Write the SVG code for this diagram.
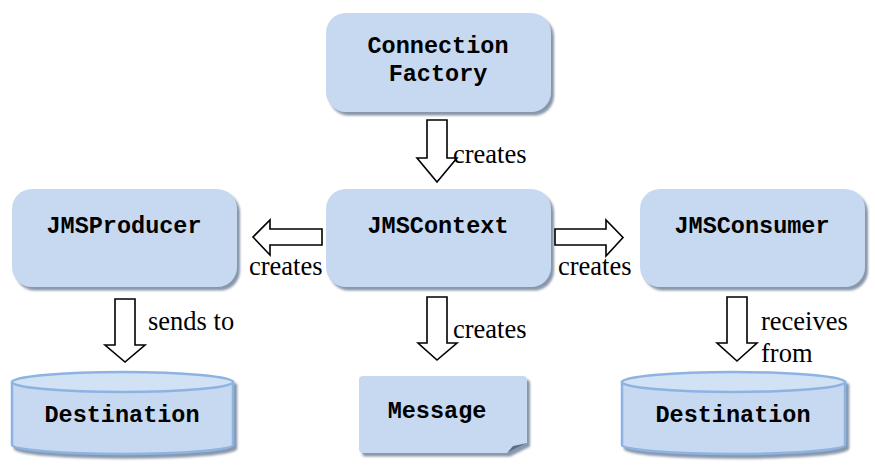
<svg xmlns="http://www.w3.org/2000/svg" width="875" height="467" viewBox="0 0 875 467">
<style>
.box{fill:#c6d9f0;filter:url(#sh)}
.cyl{fill:#c6d9f0;stroke:#8db3e2;stroke-width:2.5}
.top{fill:#d2e2f5;stroke:#8db3e2;stroke-width:2.5}
.t{font-family:"Liberation Mono","Courier New",monospace;font-weight:bold;font-size:23.5px;fill:#000;text-anchor:middle}
.l{font-family:"Liberation Serif","Times New Roman",serif;font-size:26.5px;fill:#000}
.arr{fill:#fff;stroke:#000;stroke-width:1.6;stroke-linejoin:miter}
</style>
<defs>
<filter id="sh" x="-10%" y="-10%" width="125%" height="130%">
<feDropShadow dx="3" dy="3.5" stdDeviation="1" flood-color="#7a8aa0" flood-opacity="0.9"/>
</filter>
</defs>
<rect width="875" height="467" fill="#fff"/>
<g id="connection-factory">
<rect class="box" x="326" y="13" width="225" height="99" rx="20"/>
<text class="t" x="438" y="53">Connection</text>
<text class="t" x="438" y="81">Factory</text>
</g>
<g id="jmsproducer">
<rect class="box" x="12" y="189" width="225" height="98" rx="20"/>
<text class="t" x="124" y="233">JMSProducer</text>
</g>
<g id="jmscontext">
<rect class="box" x="326" y="189" width="225" height="98" rx="20"/>
<text class="t" x="438" y="233">JMSContext</text>
</g>
<g id="jmsconsumer">
<rect class="box" x="640" y="189" width="225" height="98" rx="20"/>
<text class="t" x="752" y="233">JMSConsumer</text>
</g>
<g id="destination-left">
<g filter="url(#sh)">
<path class="cyl" d="M12,382 L12,445 A110.5,9 0 0 0 233,445 L233,382 Z"/>
<ellipse class="top" cx="122.5" cy="382" rx="110.5" ry="10"/>
</g>
<text class="t" x="122" y="422">Destination</text>
</g>
<g id="message">
<path class="box" d="M363,376 L523,376 Q527,376 527,380 L527,443 L507,453 L363,453 Q359,453 359,449 L359,380 Q359,376 363,376 Z"/>
<path d="M507,453 L527,443 L513,446 Z" fill="#5a6f8f"/>
<text class="t" x="437" y="418">Message</text>
</g>
<g id="destination-right">
<g filter="url(#sh)">
<path class="cyl" d="M622,382 L622,445 A111.5,9 0 0 0 845,445 L845,382 Z"/>
<ellipse class="top" cx="733.5" cy="382" rx="111.5" ry="10"/>
</g>
<text class="t" x="733" y="422">Destination</text>
</g>
<g id="connectors">
<path class="arr" d="M427,120 L447,120 L447,158 L457,158 L437,182 L417,158 L427,158 Z"/>
<path class="arr" d="M322,229 L322,245 L270,245 L270,255 L253,237 L270,220 L270,229 Z"/>
<path class="arr" d="M555,229 L555,245 L606,245 L606,256 L623,237.5 L606,220 L606,229 Z"/>
<path class="arr" d="M115,299 L135,299 L135,345 L145,345 L125,362 L105,345 L115,345 Z"/>
<path class="arr" d="M427,297 L447,297 L447,343 L457,343 L437,360 L418,343 L427,343 Z"/>
<path class="arr" d="M727,297 L747,297 L747,343 L757,343 L737,361 L717,343 L727,343 Z"/>
<text class="l" x="453" y="163">creates</text>
<text class="l" x="249" y="275">creates</text>
<text class="l" x="558" y="275">creates</text>
<text class="l" x="148" y="330">sends to</text>
<text class="l" x="453" y="338">creates</text>
<text class="l" x="761" y="330">receives</text>
<text class="l" x="761" y="362">from</text>
</g>
</svg>
